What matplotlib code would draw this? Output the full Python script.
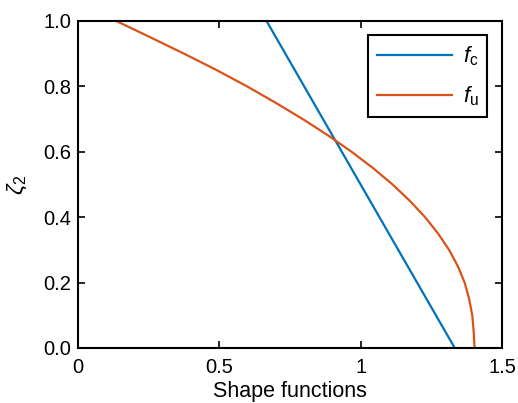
import matplotlib
matplotlib.use("Agg")
import matplotlib.pyplot as plt

plt.rcParams['font.family'] = ['Liberation Sans', 'DejaVu Sans']
plt.rcParams['mathtext.fontset'] = 'custom'
plt.rcParams['mathtext.rm'] = 'Liberation Sans'
plt.rcParams['mathtext.it'] = 'Liberation Sans:italic'

# straight shape function f_c (end points)
zeta_c = [1.0, 0.0]
f_c = [0.667, 1.333]

# curved shape function f_u (every 0.05 in zeta)
zeta_u = [1.0, 0.95, 0.9, 0.85, 0.8, 0.75, 0.7, 0.65, 0.6, 0.55, 0.5,
          0.45, 0.4, 0.35, 0.3, 0.25, 0.2, 0.15, 0.1, 0.05, 0.0]
f_u = [0.135, 0.256, 0.375, 0.490, 0.598, 0.699, 0.795, 0.885, 0.968, 1.044,
       1.113, 1.174, 1.228, 1.274, 1.313, 1.344, 1.368, 1.384, 1.395, 1.400,
       1.403]

xticks = [0, 0.5, 1, 1.5]
xticklabels = ['0', '0.5', '1', '1.5']
yticks = [0.0, 0.2, 0.4, 0.6, 0.8, 1.0]

fig = plt.figure(figsize=(5.18, 4.03), dpi=100)
ax = fig.add_axes([0.1506, 0.1365, 0.8184, 0.8115])

ax.plot(f_c, zeta_c, color='#0072BD', lw=1.6, label=r'$f_\mathrm{c}$')
ax.plot(f_u, zeta_u, color='#D95319', lw=1.6, label=r'$f_\mathrm{u}$')

ax.set_xlim(0, 1.5)
ax.set_ylim(0, 1)
ax.set_xticks(xticks)
ax.set_xticklabels(xticklabels)
ax.set_yticks(yticks)
ax.set_yticklabels(['%.1f' % v for v in yticks])
ax.tick_params(direction='in', top=True, right=True, labelsize=14.5,
               length=5, width=1.2)
ax.tick_params(axis='x', pad=7)
ax.tick_params(axis='y', pad=5)
for s in ax.spines.values():
    s.set_linewidth(1.5)

ax.set_xlabel('Shape functions', fontsize=15.5, labelpad=3)
ax.set_ylabel(r'$\zeta_2$', fontsize=16.5, labelpad=10)

leg = ax.legend(loc='upper right', fontsize=16, fancybox=False,
                edgecolor='black', framealpha=1, handlelength=3.35,
                handletextpad=0.5, borderpad=0.4, borderaxespad=0.65,
                labelspacing=0.75)
leg.get_frame().set_linewidth(1.5)

fig.savefig('out.png', dpi=100)
